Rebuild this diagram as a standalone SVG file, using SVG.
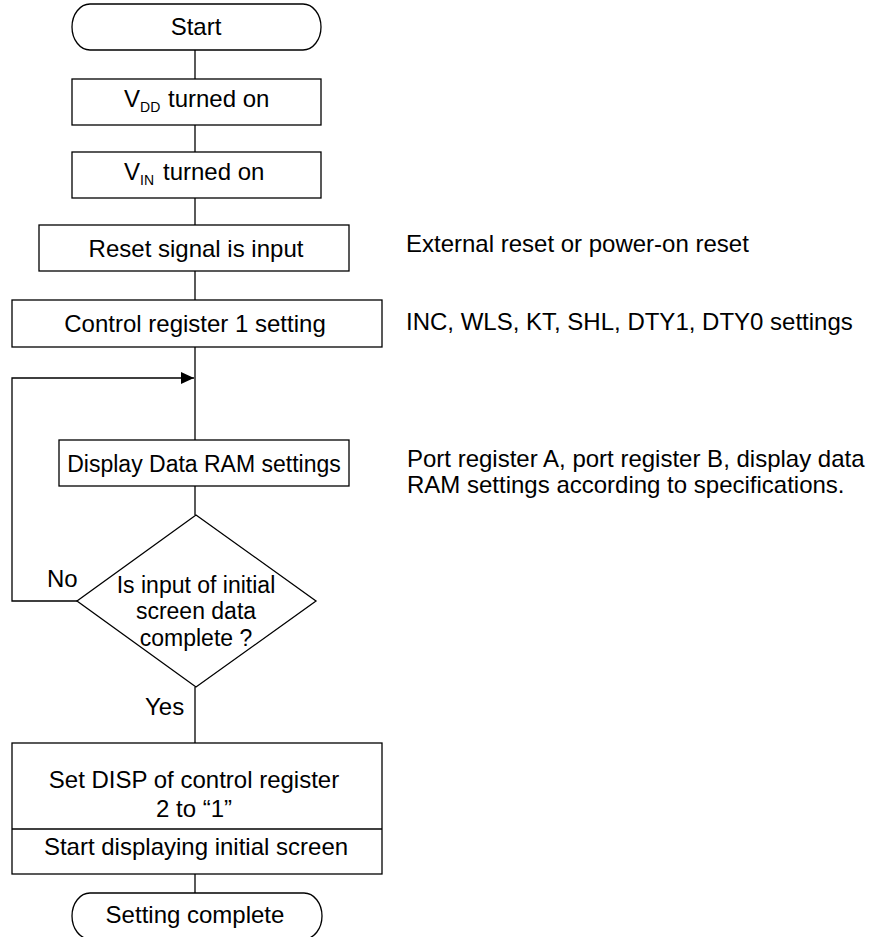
<svg xmlns="http://www.w3.org/2000/svg" width="871" height="937" viewBox="0 0 871 937">
<style>
.s{fill:#fff;stroke:#000;stroke-width:1.3}
.c{fill:none;stroke:#000;stroke-width:1.3}
text{font-family:"Liberation Sans",Arial,sans-serif;font-size:24px;fill:#000}
.m{text-anchor:middle}
.d{font-size:23px}
.sub{font-size:14px}
</style>
<defs>
<marker id="ah" markerWidth="14" markerHeight="14" refX="13" refY="6" orient="auto" markerUnits="userSpaceOnUse">
<path d="M0,0 L13,6 L0,12 Z" fill="#000"/>
</marker>
</defs>
<rect width="871" height="937" fill="#fff"/>
<g id="connectors">
<line class="c" x1="195" y1="50" x2="195" y2="79"/>
<line class="c" x1="195" y1="125" x2="195" y2="152"/>
<line class="c" x1="195" y1="198" x2="195" y2="225"/>
<line class="c" x1="195" y1="271" x2="195" y2="300"/>
<line class="c" x1="195" y1="347" x2="195" y2="440"/>
<line class="c" x1="195" y1="486" x2="195" y2="515"/>
<line class="c" x1="195" y1="687" x2="195" y2="743"/>
<line class="c" x1="195" y1="874" x2="195" y2="893"/>
<polyline class="c" points="77,601 12,601 12,378 194,378" marker-end="url(#ah)"/>
<text x="47" y="587">No</text>
<text x="145" y="715">Yes</text>
</g>
<g id="start">
<rect class="s" x="72" y="4" width="249" height="46" rx="18" ry="23"/>
<text class="m" x="196" y="35">Start</text>
</g>
<g id="vdd">
<rect class="s" x="72" y="79" width="249" height="46"/>
<text x="124" y="107">V<tspan class="sub" dy="5">DD</tspan></text>
<text x="168" y="107">turned on</text>
</g>
<g id="vin">
<rect class="s" x="72" y="152" width="249" height="46"/>
<text x="124" y="180">V<tspan class="sub" dy="5">IN</tspan></text>
<text x="163" y="180">turned on</text>
</g>
<g id="reset">
<rect class="s" x="39" y="225" width="310" height="46"/>
<text class="m" x="196" y="257">Reset signal is input</text>
</g>
<g id="control1">
<rect class="s" x="12" y="300" width="370" height="47"/>
<text class="m" x="195" y="332">Control register 1 setting</text>
</g>
<g id="display">
<rect class="s" x="59" y="440" width="290" height="46"/>
<text class="m d" x="204" y="472">Display Data RAM settings</text>
</g>
<g id="decision">
<polygon class="s" points="196,515 316,601 196,687 77,601"/>
<text class="m d" x="196" y="593">Is input of initial</text>
<text class="m d" x="196" y="619">screen data</text>
<text class="m d" x="196" y="646">complete ?</text>
</g>
<g id="setdisp">
<rect class="s" x="12" y="743" width="370" height="131"/>
<line class="c" x1="12" y1="829" x2="382" y2="829"/>
<text class="m" x="194" y="788">Set DISP of control register</text>
<text x="156" y="817">2 to “1”</text>
<text class="m" x="196" y="855">Start displaying initial screen</text>
</g>
<g id="end">
<rect class="s" x="72" y="893" width="250" height="46" rx="18" ry="23"/>
<text class="m" x="195" y="923">Setting complete</text>
</g>
<g id="notes">
<text x="406" y="252">External reset or power-on reset</text>
<text x="406" y="330">INC, WLS, KT, SHL, DTY1, DTY0 settings</text>
<text x="407" y="467">Port register A, port register B, display data</text>
<text x="407" y="493">RAM settings according to specifications.</text>
</g>
</svg>
